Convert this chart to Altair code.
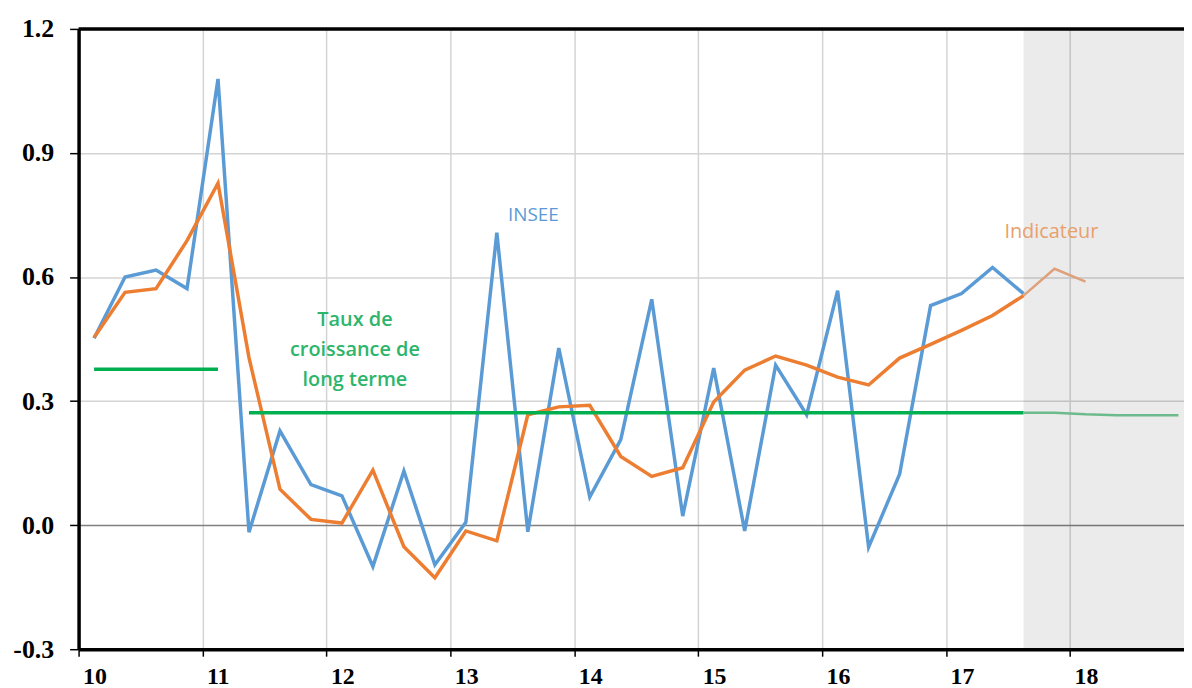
import altair as alt
import pandas as pd

# ---------------- data ----------------
quarters = [f"{y}T{q}" for y in range(2010, 2019) for q in range(1, 5)]

# INSEE quarterly GDP growth, 2010T1 .. 2017T3
insee = [0.452, 0.600, 0.617, 0.572, 1.079, -0.017, 0.228, 0.098,
         0.071, -0.100, 0.131, -0.096, 0.007, 0.707, -0.016, 0.428,
         0.068, 0.207, 0.546, 0.022, 0.380, -0.014, 0.387, 0.267,
         0.567, -0.053, 0.123, 0.531, 0.560, 0.623, 0.560]

# Indicator, 2010T1 .. 2018T1
indicateur = [0.454, 0.563, 0.572, 0.688, 0.827, 0.405, 0.087, 0.014,
              0.005, 0.133, -0.052, -0.127, -0.014, -0.038, 0.267, 0.286,
              0.290, 0.166, 0.118, 0.139, 0.298, 0.375, 0.409, 0.387,
              0.358, 0.339, 0.404, 0.437, 0.471, 0.507, 0.555, 0.620,
              0.589]

# Long-term growth rate
long_term_start = ["2010T1", "2011T2"]
long_term_end = ["2011T1", "2017T3"]
long_term_value = [0.377, 0.272]
long_term_fc_q = ["2017T3", "2017T4", "2018T1", "2018T2", "2018T3", "2018T4"]
long_term_fc = [0.272, 0.272, 0.268, 0.266, 0.266, 0.266]

forecast_start = "2017T3"
x_ticks = [10, 11, 12, 13, 14, 15, 16, 17, 18]
y_ticks = [-0.3, 0.0, 0.3, 0.6, 0.9, 1.2]
X_MIN, X_MAX = 10, 18.92
Y_MIN, Y_MAX = -0.3, 1.2


def qx(label):
    return int(label[:4]) - 2000 + (int(label[-1]) - 0.5) / 4


n_obs = len(insee)
insee_df = pd.DataFrame({"x": [qx(q) for q in quarters[:n_obs]], "v": insee})
ind_x = [qx(q) for q in quarters[:len(indicateur)]]
ind_obs = pd.DataFrame({"x": ind_x[:n_obs], "v": indicateur[:n_obs]})
ind_fc = pd.DataFrame({"x": ind_x[n_obs - 1:], "v": indicateur[n_obs - 1:]})
lt_df = pd.DataFrame({"x": [qx(q) for q in long_term_start],
                      "x2": [qx(q) for q in long_term_end],
                      "v": long_term_value})
lt_fc = pd.DataFrame({"x": [qx(q) for q in long_term_fc_q], "v": long_term_fc})
shade_df = pd.DataFrame({"x": [qx(forecast_start)], "x2": [X_MAX]})

# ---------------- scales & axes ----------------
xs = alt.Scale(domain=[X_MIN, X_MAX], nice=False, zero=False)
ys = alt.Scale(domain=[Y_MIN, Y_MAX], nice=False, zero=False)

label_font = dict(labelFont="Liberation Serif", labelFontWeight="bold",
                  labelColor="black")

x_axis = alt.Axis(values=x_ticks, title=None, labelExpr="format(datum.value, 'd')",
                  labelAlign="left", labelOffset=4, labelPadding=8,
                  labelFontSize=24,
                  tickSize=7, tickColor="black", tickWidth=1.5,
                  domainColor="black", domainWidth=3.5,
                  grid=True, gridColor="#d4d4d4", gridWidth=1.5, **label_font)
y_axis = alt.Axis(values=y_ticks, title=None,
                  labelExpr="(datum.value < 0 ? '-' : '') + format(abs(datum.value), '.1f')",
                  labelPadding=16, labelFontSize=26,
                  tickSize=9, tickColor="black", tickWidth=1.5,
                  domainColor="black", domainWidth=3.5,
                  grid=True,
                  gridColor={"condition": {"test": "datum.value === 0", "value": "#808080"},
                             "value": "#d4d4d4"},
                  gridWidth=1.5, **label_font)

shade = alt.Chart(shade_df).mark_rect(color="black", opacity=0.08).encode(
    x=alt.X("x:Q", scale=xs, axis=x_axis),
    x2="x2:Q",
)

top_border = alt.Chart().mark_rule(color="black", strokeWidth=3.5).encode(
    y=alt.Y(datum=Y_MAX, scale=ys, axis=y_axis),
)

blue = alt.Chart(insee_df).mark_line(color="#5b9bd5", strokeWidth=3.5).encode(
    x=alt.X("x:Q", scale=xs, axis=x_axis),
    y=alt.Y("v:Q", scale=ys, axis=y_axis),
)

orange = alt.Chart(ind_obs).mark_line(color="#ed7d31", strokeWidth=3.5).encode(
    x=alt.X("x:Q", scale=xs), y=alt.Y("v:Q", scale=ys),
)

orange_fc = alt.Chart(ind_fc).mark_line(color="#dfa07c", strokeWidth=2.5).encode(
    x=alt.X("x:Q", scale=xs), y=alt.Y("v:Q", scale=ys),
)

green = alt.Chart(lt_df).mark_rule(color="#00b050", strokeWidth=3.5).encode(
    x=alt.X("x:Q", scale=xs), x2="x2:Q", y=alt.Y("v:Q", scale=ys),
)

green_fc = alt.Chart(lt_fc).mark_line(color="#6dba8c", strokeWidth=2.5).encode(
    x=alt.X("x:Q", scale=xs), y=alt.Y("v:Q", scale=ys),
)

txt_insee = alt.Chart().mark_text(text="INSEE", font="Open Sans", fontSize=19,
                                  color="#5b9bd5").encode(
    x=alt.datum(13.67), y=alt.datum(0.75))
txt_ind = alt.Chart().mark_text(text="Indicateur", font="Open Sans", fontSize=20,
                                color="#e8a06c").encode(
    x=alt.datum(17.85), y=alt.datum(0.71))
txt_lt = alt.Chart().mark_text(text=["Taux de", "croissance de", "long terme"],
                               font="Open Sans", fontSize=20, fontWeight=600,
                               lineHeight=30, color="#2db56c").encode(
    x=alt.datum(12.23), y=alt.datum(0.495))

chart = alt.layer(
    shade, top_border, blue, orange, orange_fc, green, green_fc,
    txt_insee, txt_ind, txt_lt
).properties(
    width=1112, height=624,
    autosize=alt.AutoSizeParams(type="none"),
    padding={"left": 71, "top": 19, "right": 0, "bottom": 40},
).configure_view(stroke=None)

chart.save("out.html", embed_options={"renderer": "svg", "actions": False})
